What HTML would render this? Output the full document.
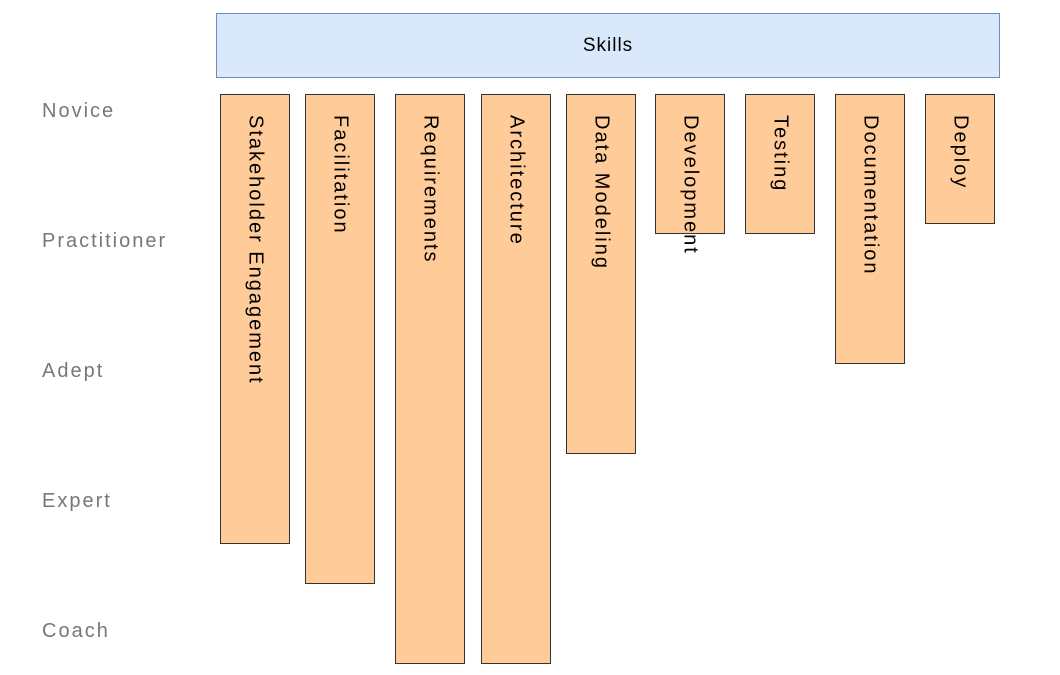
<!DOCTYPE html>
<html><head><meta charset="utf-8"><style>
body{margin:0;width:1060px;height:675px;background:#fff;position:relative;overflow:hidden;font-family:"Liberation Sans",sans-serif}
.sk{position:absolute;left:216px;top:13px;width:784px;height:65px;background:#dae8fc;border:1px solid #6c8ebf;box-sizing:border-box;display:flex;align-items:center;justify-content:center;font-size:19px;letter-spacing:1px;color:#000}
.b{position:absolute;top:94px;width:70px;background:#ffcc99;border:1px solid #333;box-sizing:border-box}
.b span{position:absolute;top:20px;left:50%;transform:translateX(-50%);writing-mode:vertical-rl;font-size:20px;letter-spacing:2px;white-space:nowrap;color:#000}
.l{position:absolute;left:42px;font-size:20px;letter-spacing:2px;color:#777}
</style></head><body>
<div class="sk">Skills</div>
<div class="l" style="top:100px">Novice</div>
<div class="l" style="top:230px">Practitioner</div>
<div class="l" style="top:360px">Adept</div>
<div class="l" style="top:490px">Expert</div>
<div class="l" style="top:620px">Coach</div>
<div class="b" style="left:220px;height:450px"><span>Stakeholder Engagement</span></div>
<div class="b" style="left:305px;height:490px"><span>Facilitation</span></div>
<div class="b" style="left:395px;height:570px"><span>Requirements</span></div>
<div class="b" style="left:481px;height:570px"><span>Architecture</span></div>
<div class="b" style="left:566px;height:360px"><span>Data Modeling</span></div>
<div class="b" style="left:655px;height:140px"><span>Development</span></div>
<div class="b" style="left:745px;height:140px"><span>Testing</span></div>
<div class="b" style="left:835px;height:270px"><span>Documentation</span></div>
<div class="b" style="left:925px;height:130px"><span>Deploy</span></div>
</body></html>
